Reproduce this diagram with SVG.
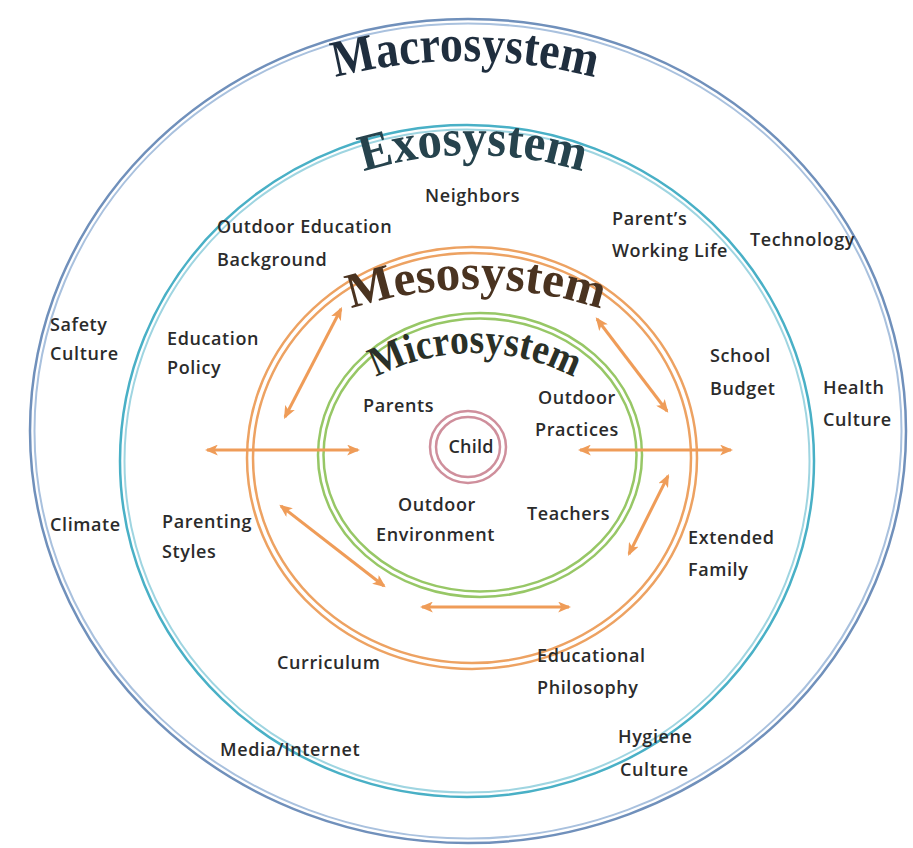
<svg xmlns="http://www.w3.org/2000/svg" width="913" height="848" viewBox="0 0 913 848">
  <style>
    .lbl { font-family: "Open Sans", "Liberation Sans", sans-serif; font-weight: 600; font-size: 18px; fill: #2b2b2b; letter-spacing: 0.6px; }
    .title { font-family: "Liberation Serif", "Times New Roman", serif; font-weight: bold; }
    .arrow { stroke: #ef9c58; stroke-width: 3; fill: none; marker-start: url(#head); marker-end: url(#head); }
  </style>
  <defs>
    <marker id="head" viewBox="0 0 12 10" refX="10" refY="5" markerWidth="13" markerHeight="11" markerUnits="userSpaceOnUse" orient="auto-start-reverse">
      <path d="M0,0 L12,5 L0,10 L3,5 Z" fill="#ef9c58"/>
    </marker>
    <!-- baseline arcs for the ring titles -->
    <path id="arcMacro" d="M295,89.6 A520,520 0 0,1 635,89.6"/>
    <path id="arcExo" d="M343,178.6 A370,370 0 0,1 603,178.6"/>
    <path id="arcMeso" d="M336,314.3 A400,400 0 0,1 616,314.3"/>
    <path id="arcMicro" d="M355,390.2 A212,212 0 0,1 595,390.2"/>
  </defs>

  <rect width="913" height="848" fill="#ffffff"/>

  <!-- Macrosystem ring -->
  <g id="macrosystem">
    <ellipse cx="468" cy="431" rx="438" ry="412" fill="none" stroke="#7090bb" stroke-width="2.5"/>
    <ellipse cx="468" cy="431" rx="433.5" ry="407.5" fill="none" stroke="#a9c1de" stroke-width="2"/>
    <text class="title" font-size="52" fill="#1f2e3e"><textPath href="#arcMacro" startOffset="50%" text-anchor="middle" textLength="262" lengthAdjust="spacingAndGlyphs">Macrosystem</textPath></text>
  </g>

  <!-- Exosystem ring -->
  <g id="exosystem">
    <ellipse cx="467" cy="461" rx="347" ry="336" fill="none" stroke="#49b0c6" stroke-width="2.5"/>
    <ellipse cx="467" cy="461" rx="342.5" ry="331.5" fill="none" stroke="#9fd5e1" stroke-width="2"/>
    <text class="title" font-size="52" fill="#26434d"><textPath href="#arcExo" startOffset="50%" text-anchor="middle" textLength="222" lengthAdjust="spacingAndGlyphs">Exosystem</textPath></text>
  </g>

  <!-- Mesosystem ring -->
  <g id="mesosystem">
    <ellipse cx="472" cy="458" rx="225" ry="211" fill="none" stroke="#eda262" stroke-width="2.5"/>
    <ellipse cx="472" cy="458" rx="219" ry="205" fill="none" stroke="#eda262" stroke-width="2.5"/>
    <text class="title" font-size="50" fill="#4a3320"><textPath href="#arcMeso" startOffset="50%" text-anchor="middle" textLength="254" lengthAdjust="spacingAndGlyphs">Mesosystem</textPath></text>
  </g>

  <!-- Microsystem ring -->
  <g id="microsystem">
    <ellipse cx="480" cy="455" rx="162" ry="142" fill="none" stroke="#97c766" stroke-width="2.5"/>
    <ellipse cx="480" cy="455" rx="156.5" ry="136.5" fill="none" stroke="#97c766" stroke-width="2.5"/>
    <text class="title" font-size="42" fill="#2a3027"><textPath href="#arcMicro" startOffset="50%" text-anchor="middle" textLength="206" lengthAdjust="spacingAndGlyphs">Microsystem</textPath></text>
  </g>

  <!-- Child -->
  <g id="child">
    <ellipse cx="468" cy="447" rx="38" ry="36" fill="none" stroke="#cf8f9c" stroke-width="2.5"/>
    <ellipse cx="468" cy="447" rx="32" ry="30" fill="none" stroke="#cf8f9c" stroke-width="2.5"/>
    <text class="lbl" x="471" y="453" text-anchor="middle" style="letter-spacing:0.2px">Child</text>
  </g>

  <!-- Connectors between systems -->
  <g id="connectors">
    <line class="arrow" x1="207" y1="450" x2="358" y2="450"/>
    <line class="arrow" x1="580" y1="450" x2="731" y2="450"/>
    <line class="arrow" x1="341" y1="309" x2="285" y2="417"/>
    <line class="arrow" x1="597" y1="319" x2="667" y2="411"/>
    <line class="arrow" x1="281" y1="506" x2="384" y2="586"/>
    <line class="arrow" x1="668" y1="476" x2="629" y2="554"/>
    <line class="arrow" x1="422" y1="607" x2="569" y2="607"/>
  </g>

  <!-- Factor labels -->
  <g id="labels">
    <text class="lbl" x="425" y="202">Neighbors</text>
    <text class="lbl" x="217" y="233">Outdoor Education</text>
    <text class="lbl" x="217" y="266">Background</text>
    <text class="lbl" x="612" y="225">Parent’s</text>
    <text class="lbl" x="612" y="257">Working Life</text>
    <text class="lbl" x="750" y="246">Technology</text>
    <text class="lbl" x="50" y="331">Safety</text>
    <text class="lbl" x="50" y="360">Culture</text>
    <text class="lbl" x="167" y="345">Education</text>
    <text class="lbl" x="167" y="374">Policy</text>
    <text class="lbl" x="710" y="362">School</text>
    <text class="lbl" x="710" y="395">Budget</text>
    <text class="lbl" x="823" y="394">Health</text>
    <text class="lbl" x="823" y="426">Culture</text>
    <text class="lbl" x="363" y="412">Parents</text>
    <text class="lbl" x="538" y="404">Outdoor</text>
    <text class="lbl" x="535" y="436">Practices</text>
    <text class="lbl" x="398" y="511">Outdoor</text>
    <text class="lbl" x="376" y="541">Environment</text>
    <text class="lbl" x="527" y="520">Teachers</text>
    <text class="lbl" x="50" y="531">Climate</text>
    <text class="lbl" x="162" y="528">Parenting</text>
    <text class="lbl" x="162" y="558">Styles</text>
    <text class="lbl" x="688" y="544">Extended</text>
    <text class="lbl" x="688" y="576">Family</text>
    <text class="lbl" x="277" y="669">Curriculum</text>
    <text class="lbl" x="537" y="662">Educational</text>
    <text class="lbl" x="537" y="694">Philosophy</text>
    <text class="lbl" x="220" y="756">Media/Internet</text>
    <text class="lbl" x="618" y="743">Hygiene</text>
    <text class="lbl" x="620" y="776">Culture</text>
  </g>
</svg>
